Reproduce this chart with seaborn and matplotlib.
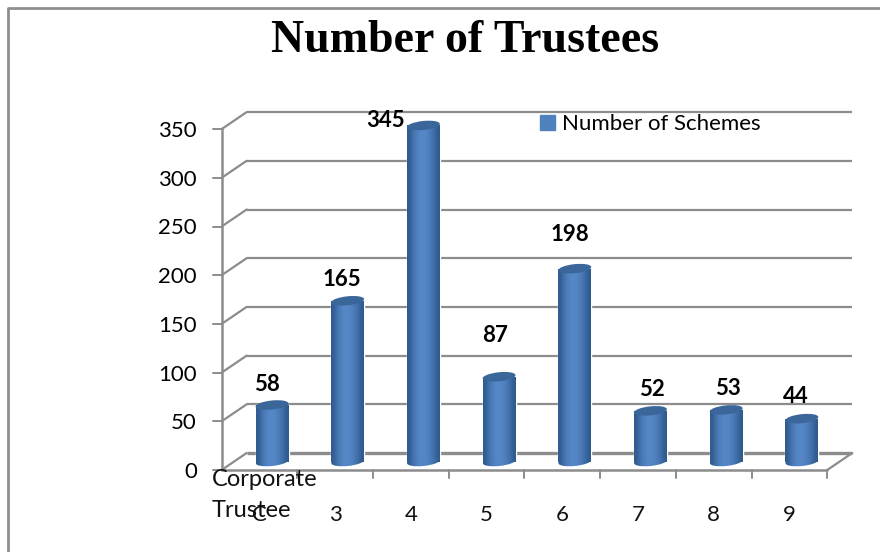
import numpy as np
import matplotlib
matplotlib.use("Agg")
import matplotlib.pyplot as plt
from matplotlib.lines import Line2D
from matplotlib.patches import Ellipse, Patch
from matplotlib.transforms import Affine2D
import seaborn as sns

# values
categories = ["C", "3", "4", "5", "6", "7", "8", "9"]
schemes = [58, 165, 345, 87, 198, 52, 53, 44]
y_ticks = [0, 50, 100, 150, 200, 250, 300, 350]
series_name = "Number of Schemes"

W, H = 880, 552
step_x = 75.7
px_per_unit = 0.974
# pixel position of the first bar and the base of the bars
x0_px, base_px = 272, 461.5
bar_px = 33
depth_x, depth_y = 12.5 / step_x, 8.5 / px_per_unit
grid = "#8c8c8c"


def px_x(p):
    return (p - x0_px) / step_x


def px_y(p):
    return (base_px - p) / px_per_unit


sns.set_theme(style="white")
plt.rcParams['font.family'] = ['Lato', 'DejaVu Sans']

fig = plt.figure(figsize=(W / 100, H / 100), dpi=100)
ax = fig.add_axes([0, 0, 1, 1])

sns.barplot(x=categories, y=schemes, color="#4f81bd", width=bar_px / step_x,
            saturation=1, ax=ax, zorder=3)
ax.set_xlim(px_x(0), px_x(W))
ax.set_ylim(px_y(H), px_y(0))
ax.set_autoscale_on(False)
ax.axis("off")

# outer frame
ax.add_line(Line2D([8, 8, W], [H, 8, 8], transform=Affine2D().scale(1, -1).translate(0, H),
                   color="#8f8f8f", lw=2, zorder=1))

# floor and back wall of the 3d box
left = -0.5 - depth_x
right = left + len(categories)
for v in y_ticks:
    ax.plot([left + 2 * depth_x, right + 2 * depth_x], [v + depth_y, v + depth_y],
            color=grid, lw=1.6 if v else 2.4, zorder=2, solid_capstyle="butt")
    ax.plot([left, left + 2 * depth_x], [v - depth_y, v + depth_y], color=grid, lw=1.6, zorder=2)
    ax.plot([left - 0.12, left], [v - depth_y, v - depth_y], color=grid, lw=1.4, zorder=2)
    ax.text(px_x(197), v - depth_y - 2, str(v), ha="right", va="center", fontsize=16, color="black")
ax.plot([left, left], [-depth_y, y_ticks[-1] - depth_y], color=grid, lw=1.8, zorder=2)
ax.plot([left, right], [-depth_y, -depth_y], color=grid, lw=1.8, zorder=2)
ax.plot([right, right + 2 * depth_x], [-depth_y, depth_y], color=grid, lw=1.6, zorder=2)
for i in range(1, len(categories) + 1):
    ax.plot([left + i, left + i], [-depth_y, -depth_y - 8], color=grid, lw=1.4, zorder=2)

# cylinder shading
shade = np.array([[0.0, 0.55, 0.85, 1.0, 0.95, 0.75, 0.45, 0.0]])
cmap = matplotlib.colors.LinearSegmentedColormap.from_list("cyl", ["#2f5a8e", "#5688c8"])
tilt = 6
for i, (bar, v) in enumerate(zip(ax.patches, schemes)):
    x, w = bar.get_x(), bar.get_width()
    bottom_c = ax.transData.transform((i, 0))
    top_c = ax.transData.transform((i, v))
    bottom = Ellipse(bottom_c, bar_px, 9, angle=tilt, transform=None, facecolor="none", edgecolor="none")
    ax.add_patch(bottom)
    for clip in (bar, bottom):
        im = ax.imshow(shade, extent=[x, x + w, -10, v], aspect="auto", cmap=cmap, zorder=3.5,
                       interpolation="bicubic")
        im.set_clip_path(clip)
    ax.add_patch(Ellipse(top_c, bar_px, 9, angle=tilt, transform=None, facecolor="#3b6699",
                         edgecolor="none", zorder=4))
ax.set_xlim(px_x(0), px_x(W))
ax.set_ylim(px_y(H), px_y(0))

# value labels, placed by hand in the original
nudge_x = [-5, -6, -38, -4, -5, 1, 2, -6]
nudge_y = [21, 21, 5, 41, 34, 21, 21, 22]
for i, v in enumerate(schemes):
    ax.annotate(str(v), (i, v), xytext=(nudge_x[i], nudge_y[i]), textcoords="offset pixels",
                ha="center", va="center", fontsize=16, fontweight="bold", color="black", zorder=5)

# category labels
for i, c in enumerate(categories):
    ax.text(i - depth_x, px_y(515), c, ha="center", va="center", fontsize=16, color="#111111", zorder=5)
ax.text(px_x(212), px_y(495), "Corporate\nTrustee", ha="left", va="center",
        fontsize=17, linespacing=1.6, color="#111111", zorder=5)

ax.text(px_x(465), px_y(41), "Number of Trustees", ha="center", va="center",
        family="Liberation Serif", fontweight="bold", fontsize=33, color="black")

ax.legend(handles=[Patch(color="#4f81bd", label=series_name)], loc="center left",
          bbox_to_anchor=(529 / W, 1 - 124 / H), frameon=False, fontsize=16,
          handlelength=0.65, handleheight=0.65, handletextpad=0.35, borderpad=0, labelcolor="black")

fig.savefig("out.png", dpi=100)
